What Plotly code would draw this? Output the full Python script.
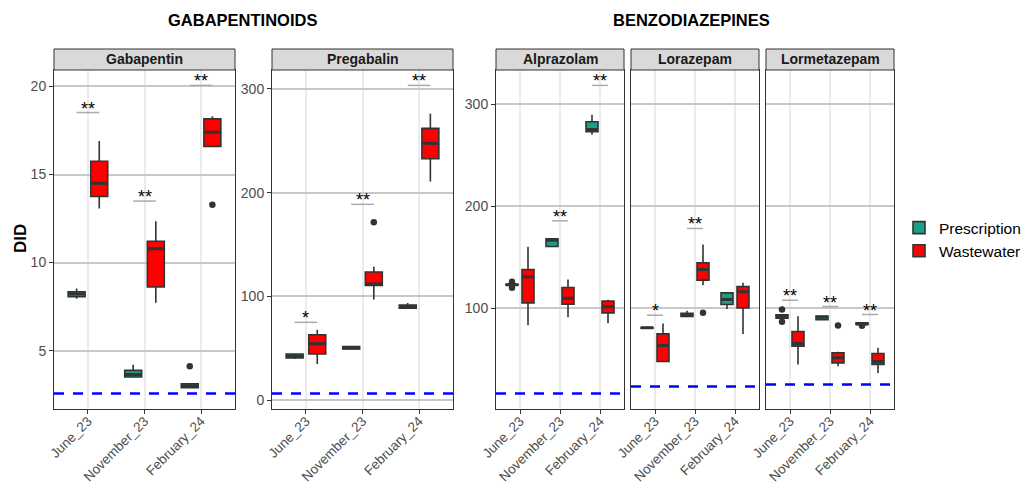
import plotly.graph_objects as go

# ---------------- data ----------------
months = ["June_23", "November_23", "February_24"]
series = ["Prescription", "Wastewater"]
series_colors = ["#1A9E85", "#FF0000"]

# five-number summaries per month: (lower whisker, q1, median, q3, upper whisker)
gabapentin_prescription = [(7.94, 8.06, 8.21, 8.34, 8.53), (3.50, 3.50, 3.65, 3.88, 4.20), (2.90, 2.90, 3.00, 3.12, 3.12)]
gabapentin_wastewater = [(13.07, 13.75, 14.51, 15.75, 16.90), (7.72, 8.61, 10.79, 11.21, 12.35), (16.60, 16.60, 17.40, 18.16, 18.31)]
gabapentin_prescription_outliers = [[], [], [4.11]]
gabapentin_wastewater_outliers = [[], [], [13.28]]
gabapentin_sig_labels = ["**", "**", "**"]
gabapentin_sig_y = [18.52, 13.49, 20.06]
gabapentin_loq = 2.56

pregabalin_prescription = [(39.8, 40.8, 42.4, 44.6, 44.6), (49.4, 49.4, 50.4, 51.7, 52.3), (88.6, 88.6, 90.2, 91.8, 93.7)]
pregabalin_wastewater = [(35.0, 44.6, 54.6, 63.2, 68.0), (97.2, 110.7, 112.0, 123.6, 128.7), (210.8, 232.6, 247.4, 261.8, 275.9)]
pregabalin_prescription_outliers = [[], [], []]
pregabalin_wastewater_outliers = [[], [171.4], []]
pregabalin_sig_labels = ["*", "**", "**"]
pregabalin_sig_y = [75.1, 188.7, 303.2]
pregabalin_loq = 6.5

alprazolam_prescription = [(122.5, 122.5, 123.0, 123.5, 123.5), (159.8, 160.5, 166.5, 168.0, 168.6), (269.9, 272.9, 275.2, 282.7, 289.5)]
alprazolam_wastewater = [(83.3, 105.2, 130.7, 137.9, 160.1), (91.2, 103.9, 109.8, 120.3, 128.1), (85.3, 95.4, 101.3, 106.9, 108.2)]
alprazolam_prescription_outliers = [[125.8, 120.0], [], []]
alprazolam_wastewater_outliers = [[], [], []]
alprazolam_sig_labels = [None, "**", "**"]
alprazolam_sig_y = [None, 185.6, 318.3]
alprazolam_loq = 16.3

lorazepam_prescription = [(80.5, 80.5, 80.7, 80.9, 80.9), (92.0, 92.0, 93.0, 95.0, 97.4), (99.3, 103.6, 108.5, 115.0, 115.0)]
lorazepam_wastewater = [(47.1, 47.7, 63.4, 74.8, 85.0), (122.5, 127.5, 137.9, 144.4, 162.4), (74.8, 100.3, 116.0, 121.2, 124.8)]
lorazepam_prescription_outliers = [[], [], []]
lorazepam_wastewater_outliers = [[], [95.4], []]
lorazepam_sig_labels = ["*", "**", None]
lorazepam_sig_y = [93.1, 178.1, None]
lorazepam_loq = 23.2

lormetazepam_prescription = [(90.1, 90.1, 91.8, 93.5, 93.5), (88.6, 88.6, 91.2, 92.2, 92.8), (84.0, 84.0, 84.6, 85.6, 85.6)]
lormetazepam_wastewater = [(44.8, 62.7, 65.4, 77.1, 92.2), (43.1, 46.4, 51.3, 56.2, 57.2), (36.6, 44.8, 47.7, 55.6, 61.1)]
lormetazepam_prescription_outliers = [[98.7, 86.6], [], [82.8]]
lormetazepam_wastewater_outliers = [[], [83.0], []]
lormetazepam_sig_labels = ["**", "**", "**"]
lormetazepam_sig_y = [107.8, 101.6, 93.8]
lormetazepam_loq = 25.2

group_titles = ["GABAPENTINOIDS", "BENZODIAZEPINES"]
y_title = "DID"

panels = [
    ("Gabapentin", [gabapentin_prescription, gabapentin_wastewater],
     [gabapentin_prescription_outliers, gabapentin_wastewater_outliers],
     gabapentin_sig_labels, gabapentin_sig_y, gabapentin_loq),
    ("Pregabalin", [pregabalin_prescription, pregabalin_wastewater],
     [pregabalin_prescription_outliers, pregabalin_wastewater_outliers],
     pregabalin_sig_labels, pregabalin_sig_y, pregabalin_loq),
    ("Alprazolam", [alprazolam_prescription, alprazolam_wastewater],
     [alprazolam_prescription_outliers, alprazolam_wastewater_outliers],
     alprazolam_sig_labels, alprazolam_sig_y, alprazolam_loq),
    ("Lorazepam", [lorazepam_prescription, lorazepam_wastewater],
     [lorazepam_prescription_outliers, lorazepam_wastewater_outliers],
     lorazepam_sig_labels, lorazepam_sig_y, lorazepam_loq),
    ("Lormetazepam", [lormetazepam_prescription, lormetazepam_wastewater],
     [lormetazepam_prescription_outliers, lormetazepam_wastewater_outliers],
     lormetazepam_sig_labels, lormetazepam_sig_y, lormetazepam_loq),
]

# ---------------- layout geometry (screen pixels) ----------------
PAGE_MARGIN = 8                      # default body margin of the html page
W, H = 1030, 486
panel_px = [(54, 235), (272, 453), (496, 624), (631, 759), (766, 894)]
plot_top, plot_bottom, strip_top = 70, 409, 49
y_groups = [[0], [1], [2, 3, 4]]  # panels sharing a y scale
y_dticks = [5, 100, 100]

FONT = "Liberation Sans, Arial, sans-serif"
DODGE = 0.2

def px_x(p):
    return (p - PAGE_MARGIN) / W

def px_y(p):
    return 1 - (p - PAGE_MARGIN) / H

fig = go.Figure()
shapes, annotations = [], []

def all_values(i):
    name, stats, outs, labs, sy, loq = panels[i]
    vals = [loq]
    for s in stats:
        for row in s:
            vals += list(row)
    for o in outs:
        for lst in o:
            vals += lst
    vals += [v for v in sy if v is not None]
    return vals

y_ranges = {}
for grp in y_groups:
    vals = []
    for i in grp:
        vals += all_values(i)
    lo, hi = min(vals), max(vals)
    pad = 0.05 * (hi - lo)
    for i in grp:
        y_ranges[i] = [lo - pad, hi + pad]

for i, (name, stats, outs, labs, sy, loq) in enumerate(panels):
    sfx = "" if i == 0 else str(i + 1)
    xa, ya = "x" + sfx, "y" + sfx
    common = dict(xaxis=xa, yaxis=ya, hoverinfo="skip", alignmentgroup="g" + str(i), whiskerwidth=0)
    for k, ser in enumerate(series):
        st = stats[k]
        fig.add_trace(go.Box(
            name=ser, legendgroup=ser, showlegend=(i == 0),
            x=months,
            lowerfence=[r[0] for r in st], q1=[r[1] for r in st],
            median=[r[2] for r in st], q3=[r[3] for r in st],
            upperfence=[r[4] for r in st],
            boxpoints=False,
            fillcolor=series_colors[k],
            line=dict(color="#333333", width=1.6),
            offsetgroup=ser, **common,
        ))
    # thicker median bars (degenerate boxes at the median)
    for k, ser in enumerate(series):
        med = [r[2] for r in stats[k]]
        fig.add_trace(go.Box(
            name=ser, legendgroup=ser, showlegend=False,
            x=months, lowerfence=med, q1=med, median=med, q3=med, upperfence=med,
            boxpoints=False, fillcolor="rgba(0,0,0,0)",
            line=dict(color="#333333", width=3),
            offsetgroup=ser, **common,
        ))
    # outlier points, dodged with the same offset groups (box itself invisible)
    for k, ser in enumerate(series):
        ox, oy = [], []
        for j, lst in enumerate(outs[k]):
            for v in lst:
                ox.append(months[j])
                oy.append(v)
        if not oy:
            continue
        fig.add_trace(go.Box(
            name=ser, legendgroup=ser, showlegend=False,
            x=ox, y=oy, boxpoints="all", jitter=0, pointpos=0,
            marker=dict(color="#333333", size=6.5),
            fillcolor="rgba(0,0,0,0)", line=dict(color="rgba(0,0,0,0)", width=0),
            offsetgroup=ser, **common,
        ))
    # LOQ dashed line
    shapes.append(dict(type="line", xref=xa + " domain", yref=ya, x0=0, x1=1, y0=loq, y1=loq,
                       line=dict(color="#0000FF", width=2.5, dash="10px,9px"), layer="above"))
    # significance marks
    for j, (lab, yv) in enumerate(zip(labs, sy)):
        if lab is None:
            continue
        shapes.append(dict(type="line", xref=xa, yref=ya, x0=j - DODGE, x1=j + DODGE, y0=yv, y1=yv,
                           line=dict(color="#AAAAAA", width=1.5), layer="above"))
        annotations.append(dict(x=months[j], y=yv, xref=xa, yref=ya, text=lab, showarrow=False,
                                xanchor="center", yanchor="bottom", yshift=-8,
                                font=dict(family=FONT, size=18, color="black")))
    # strip
    x0p, x1p = panel_px[i]
    shapes.append(dict(type="rect", xref="paper", yref="paper", x0=px_x(x0p), x1=px_x(x1p),
                       y0=px_y(plot_top), y1=px_y(strip_top), fillcolor="#D9D9D9",
                       line=dict(color="#333333", width=1)))
    annotations.append(dict(x=px_x((x0p + x1p) / 2), y=px_y((plot_top + strip_top) / 2), xref="paper", yref="paper",
                            text="<b>" + name + "</b>", showarrow=False, xanchor="center", yanchor="middle",
                            font=dict(family=FONT, size=14, color="#1A1A1A")))

    grp_idx = [g for g, grp in enumerate(y_groups) if i in grp][0]
    first_in_group = (y_groups[grp_idx][0] == i)
    fig.layout["xaxis" + sfx] = dict(
        domain=[px_x(x0p), px_x(x1p)], anchor=ya, type="category",
        categoryorder="array", categoryarray=months, range=[-0.6, 2.6],
        showgrid=True, gridcolor="#EBEBEB", gridwidth=1.5,
        showline=True, mirror=True, linecolor="#333333", linewidth=1,
        ticks="outside", ticklen=4, tickcolor="#333333", tickwidth=1,
        tickangle=-45, ticklabelstandoff=-6,
        tickfont=dict(family=FONT, size=13.5, color="#4D4D4D"),
        fixedrange=True,
    )
    fig.layout["yaxis" + sfx] = dict(
        domain=[px_y(plot_bottom), px_y(plot_top)], anchor=xa, range=y_ranges[i],
        tickmode="linear", tick0=0, dtick=y_dticks[grp_idx],
        showgrid=True, gridcolor="#C8C8C8", gridwidth=1.5, zeroline=False,
        showline=True, mirror=True, linecolor="#333333", linewidth=1,
        ticks="outside" if first_in_group else "", ticklen=4, tickcolor="#333333",
        showticklabels=first_in_group,
        tickfont=dict(family=FONT, size=14, color="#4D4D4D"),
        fixedrange=True,
    )

# group titles
annotations.append(dict(x=px_x(242), y=px_y(20), xref="paper", yref="paper", text="<b>" + group_titles[0] + "</b>",
                        showarrow=False, xanchor="center", yanchor="middle",
                        font=dict(family=FONT, size=16.5, color="black")))
annotations.append(dict(x=px_x(691), y=px_y(20), xref="paper", yref="paper", text="<b>" + group_titles[1] + "</b>",
                        showarrow=False, xanchor="center", yanchor="middle",
                        font=dict(family=FONT, size=16.5, color="black")))
# y title
annotations.append(dict(x=px_x(20), y=px_y(239), xref="paper", yref="paper", text="<b>" + y_title + "</b>",
                        textangle=-90, showarrow=False, xanchor="center", yanchor="middle",
                        font=dict(family=FONT, size=17, color="black")))

fig.update_layout(
    width=W, height=H, margin=dict(l=0, r=0, t=0, b=0, autoexpand=False),
    paper_bgcolor="white", plot_bgcolor="white",
    boxmode="group", boxgap=0.2, boxgroupgap=0.25,
    shapes=shapes, annotations=annotations,
    showlegend=True,
    legend=dict(x=px_x(899), y=px_y(239.5), xanchor="left", yanchor="middle",
                font=dict(family=FONT, size=15.5, color="black"), bgcolor="rgba(0,0,0,0)",
                tracegroupgap=0, itemwidth=30),
    font=dict(family=FONT),
)

fig.write_html("out.html")
